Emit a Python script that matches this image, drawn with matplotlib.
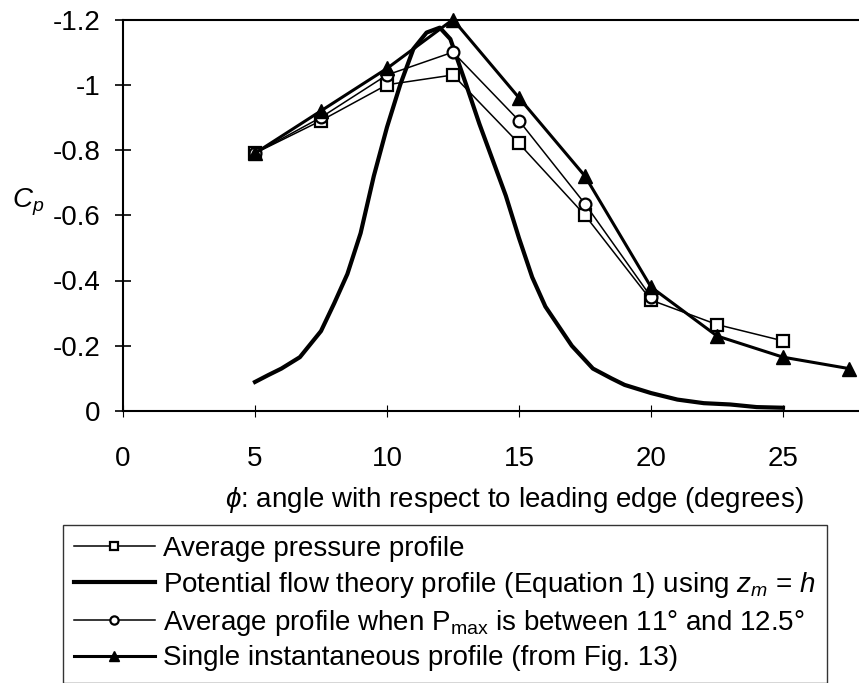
import matplotlib
matplotlib.use("Agg")
import matplotlib.pyplot as plt
import numpy as np

plt.rcParams['font.family'] = ['Liberation Sans', 'DejaVu Sans']
plt.rcParams['mathtext.fontset'] = 'custom'
plt.rcParams['mathtext.rm'] = 'Liberation Sans'
plt.rcParams['mathtext.it'] = 'Liberation Sans:italic'

# measured data
phi_avg = [5, 7.5, 10, 12.5, 15, 17.5, 20, 22.5, 25]
cp_avg = [-0.79, -0.89, -1.00, -1.03, -0.82, -0.60, -0.34, -0.265, -0.215]

phi_pmax = [5, 7.5, 10, 12.5, 15, 17.5, 20]
cp_pmax = [-0.79, -0.90, -1.03, -1.10, -0.89, -0.635, -0.35]

phi_inst = [5, 7.5, 10, 12.5, 15, 17.5, 20, 22.5, 25, 27.5]
cp_inst = [-0.79, -0.92, -1.05, -1.20, -0.96, -0.72, -0.38, -0.23, -0.165, -0.13]

# potential flow theory curve
phi_pot = [5, 5.5, 6, 6.7, 7.5, 8, 8.5, 9, 9.5, 10, 10.5, 11, 11.5, 12,
           12.4, 13, 13.5, 14, 14.5, 15, 15.5, 16, 16.5, 17, 17.8, 18.5,
           19, 20, 21, 22, 23, 24, 25]
cp_pot = [-0.089, -0.11, -0.13, -0.165, -0.245, -0.33, -0.42, -0.545, -0.72,
          -0.87, -1.00, -1.11, -1.16, -1.175, -1.14, -1.00, -0.88, -0.77,
          -0.66, -0.53, -0.41, -0.32, -0.26, -0.20, -0.13, -0.10, -0.08,
          -0.055, -0.035, -0.024, -0.02, -0.012, -0.01]

yticks = [0, -0.2, -0.4, -0.6, -0.8, -1.0, -1.2]
ytick_labels = ['0', '-0.2', '-0.4', '-0.6', '-0.8', '-1', '-1.2']
xticks = [0, 5, 10, 15, 20, 25]

W, H = 859, 683
fs = 20
fig = plt.figure(figsize=(W / 100, H / 100), dpi=100)
ax = fig.add_axes([123 / W, 1 - 411 / H, (W - 123) / W, (411 - 19.5) / H])

l1, = ax.plot(phi_avg, cp_avg, color='black', lw=1.1, marker='s', ms=9,
              mfc='white', mec='black', mew=1.6, clip_on=False, zorder=3)
l2, = ax.plot(phi_pot, cp_pot, color='black', lw=3.0, clip_on=False, zorder=2)
l3, = ax.plot(phi_pmax, cp_pmax, color='black', lw=1.1, marker='o', ms=8.5,
              mfc='white', mec='black', mew=1.6, clip_on=False, zorder=4)
l4, = ax.plot(phi_inst, cp_inst, color='black', lw=2.2, marker='^', ms=9.5,
              mfc='black', mec='black', clip_on=False, zorder=5)

ax.set_xlim(0, (W - 123) / 26.4)
ax.set_ylim(0, -1.2)
ax.set_xticks(xticks)
ax.set_yticks(yticks)
ax.set_yticklabels(ytick_labels)
ax.tick_params(axis='y', direction='inout', length=12, width=1.2,
               labelsize=fs, pad=10)
ax.tick_params(axis='x', direction='inout', length=9, width=0.8,
               labelsize=fs, pad=21)
for s in ['left', 'bottom', 'top']:
    ax.spines[s].set_linewidth(1.5)
ax.spines['right'].set_visible(False)

fig.text(28 / W, 1 - 202 / H, r'$C_p$', fontsize=fs, ha='center', va='center')
fig.text(514 / W, 1 - 500 / H,
         r'$\phi$: angle with respect to leading edge (degrees)',
         fontsize=fs, ha='center', va='center')

labels = ['Average pressure profile',
          r'Potential flow theory profile (Equation 1) using $z_m$ = $h$',
          r'Average profile when P$_{\mathrm{max}}$ is between 11° and 12.5°',
          'Single instantaneous profile (from Fig. 13)']
leg = fig.legend([l1, l2, l3, l4], labels, loc='upper left',
                 bbox_to_anchor=(63 / W, 1 - 525 / H), fontsize=fs,
                 frameon=True, fancybox=False, edgecolor='black',
                 borderaxespad=0, borderpad=0.4, labelspacing=0.28,
                 handlelength=2.9, handletextpad=0.3, markerscale=0.7)
leg.get_frame().set_linewidth(1.0)

fig.savefig('out.png', dpi=100)
